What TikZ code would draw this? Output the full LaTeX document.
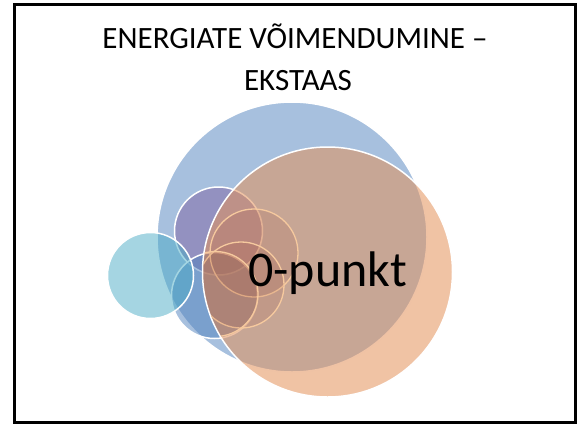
\documentclass[tikz,border=0pt]{standalone}
\usepackage{fontspec}
\setmainfont{Carlito}
\begin{document}
\begin{tikzpicture}[x=1pt,y=-1pt,
  frame/.style={draw=black,line width=2.5pt},
  bub/.style={draw=white,line width=1.5pt,fill opacity=0.5},
  peach/.style={draw=peachline,line width=1.3pt,fill=peachfill,fill opacity=0.14},
  title/.style={anchor=base,inner sep=0pt,font=\fontsize{31}{37}\selectfont},
  big/.style={anchor=base,inner sep=0pt,font=\fontsize{50}{60}\selectfont}]
\definecolor{accblue}{HTML}{4F81BD}
\definecolor{accpurple}{HTML}{8064A2}
\definecolor{acccyan}{HTML}{4BACC6}
\definecolor{accorange}{HTML}{E3915A}
\definecolor{peachline}{HTML}{F6C99E}
\definecolor{peachfill}{HTML}{A0503A}
\useasboundingbox (0,0) rectangle (581,424);
\draw[frame] (14.5,4.5) rectangle (575.5,422.5);
\node[title] (title1) at (295,48.3) {ENERGIATE VÕIMENDUMINE –};
\node[title] (title2) at (298,90) {EKSTAAS};
% circles
\path[bub,fill=accblue] (292,237) circle[radius=135];
\path[bub,fill=accpurple] (218.5,231) circle[radius=44];
\path[bub,fill=accblue] (214.5,295.5) circle[radius=43];
\path[bub,fill=acccyan] (150.5,275.5) circle[radius=43];
\path[bub,fill=accorange,fill opacity=0.55] (327.5,272) circle[radius=125];
\begin{scope}
  \clip (327.5,272) circle[radius=124.2];
  \path[peach] (254,253) circle[radius=44];
  \path[peach] (241,285) circle[radius=43];
  \path[peach] (215.5,294) circle[radius=42.5];
\end{scope}
\node[big] (zero) at (327.5,286) {0-punkt};
\end{tikzpicture}
\end{document}
